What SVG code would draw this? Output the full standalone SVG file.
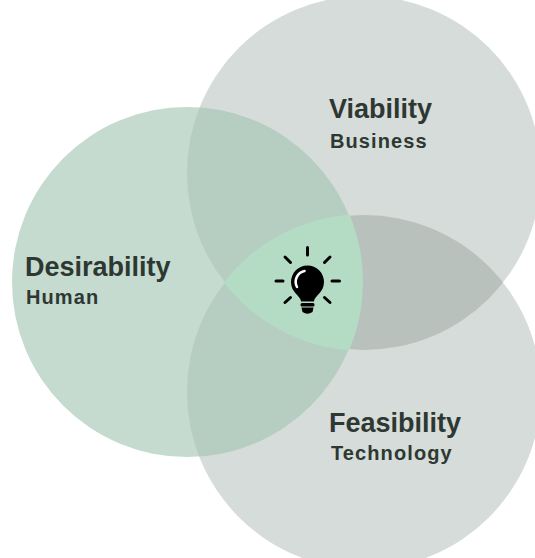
<svg xmlns="http://www.w3.org/2000/svg" width="535" height="558" viewBox="0 0 535 558">
  <style>
    .title { font-family: "Liberation Sans", Arial, sans-serif; font-weight: bold; font-size: 27px; fill: #2e3832; }
    .sub { font-family: "Liberation Sans", Arial, sans-serif; font-weight: bold; font-size: 20px; letter-spacing: 1.1px; fill: #2e3832; }
    .grey { fill: #d6dcd9; }
    .green { fill: #c5dbd0; }
    .overlap { fill: #b6cdc1; }
    .lens { fill: #b8c1bc; }
    .ray { stroke: #000; stroke-width: 3; stroke-linecap: round; fill: none; }
  </style>
  <defs>
    <circle id="cL" cx="187" cy="282" r="175"/>
    <circle id="cTR" cx="364" cy="173" r="177"/>
    <circle id="cBR" cx="364" cy="392" r="177"/>
    <clipPath id="clipL"><use href="#cL"/></clipPath>
    <clipPath id="clipTR"><use href="#cTR"/></clipPath>
  </defs>
  <rect width="535" height="558" fill="#ffffff"/>

  <g id="viability">
    <use href="#cTR" class="grey"/>
  </g>
  <g id="feasibility">
    <use href="#cBR" class="grey"/>
    <use href="#cBR" class="lens" clip-path="url(#clipTR)"/>
  </g>
  <g id="desirability">
    <use href="#cL" class="green"/>
    <use href="#cTR" class="overlap" clip-path="url(#clipL)"/>
    <use href="#cBR" class="overlap" clip-path="url(#clipL)"/>
  </g>

  <g id="center">
    <path d="M224.9,282.5 A177,177 0 0 1 348.9,215.7 A175,175 0 0 1 348.5,349.4 A177,177 0 0 1 224.9,282.5 Z" fill="#b4dcc5" stroke="#b4dcc5" stroke-width="2" stroke-linejoin="round"/>
    <g id="bulb">
      <line class="ray" x1="307.5" y1="247.5" x2="307.5" y2="255"/>
      <line class="ray" x1="276" y1="281" x2="283" y2="281"/>
      <line class="ray" x1="332" y1="281" x2="339.5" y2="281"/>
      <line class="ray" x1="285" y1="257" x2="290.5" y2="262.5"/>
      <line class="ray" x1="330" y1="257" x2="324.5" y2="262.5"/>
      <line class="ray" x1="285" y1="302.5" x2="290.5" y2="297.5"/>
      <line class="ray" x1="330" y1="302.5" x2="324.5" y2="297.5"/>
      <path d="M301,301.5 C301,296 291,293 291,282 A16.5,16.5 0 1 1 324,282 C324,293 314,296 314,301.5 Z" fill="#000"/>
      <path d="M297,287 A11,11 0 0 1 304.5,271" stroke="#ffffff" stroke-width="2.5" stroke-linecap="round" fill="none"/>
      <rect x="300.5" y="303" width="14" height="3.5" rx="1.5" fill="#000"/>
      <path d="M301.5,307.5 H313.5 L312.5,312 Q307.5,315.5 302.5,312 Z" fill="#000"/>
    </g>
  </g>

  <g id="labels">
    <text class="title" x="25" y="276">Desirability</text>
    <text class="sub" x="26" y="304">Human</text>
    <text class="title" x="329" y="118">Viability</text>
    <text class="sub" x="330" y="148">Business</text>
    <text class="title" x="329" y="432">Feasibility</text>
    <text class="sub" x="331" y="460">Technology</text>
  </g>
</svg>
